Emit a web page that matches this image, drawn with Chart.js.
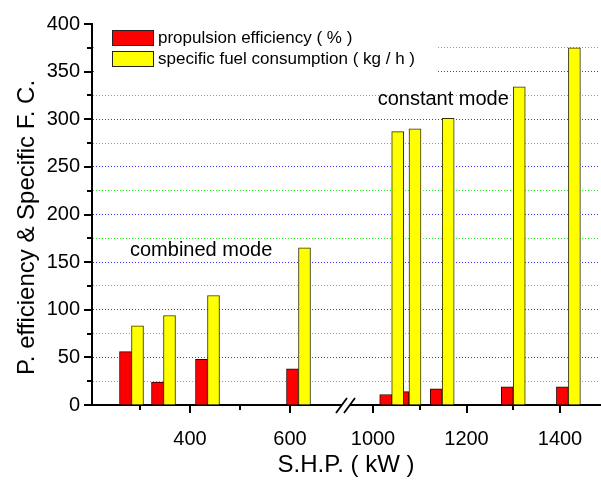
<!DOCTYPE html>
<html>
<head>
<meta charset="utf-8">
<script src="https://cdn.jsdelivr.net/npm/chart.js@4.4.1/dist/chart.umd.min.js"></script>
<style>
  html, body { margin: 0; padding: 0; background: #fff; }
  #wrap { width: 601px; height: 483px; }
</style>
</head>
<body>
<div id="wrap"><canvas id="shpChart" width="601" height="483"></canvas></div>
<script>
// values
const shpValues = [283, 347, 435, 617, 1040, 1077, 1148, 1300, 1418];
const propulsionEfficiency = [56, 24, 48, 38, 11, 14, 17, 19, 19];
const fuelConsumption = [83, 94, 115, 165, 287, 290, 301, 334, 375];

const xTickValues = [300, 400, 500, 600, 1000, 1100, 1200, 1300, 1400];
const xTickLabels = ['', '400', '', '600', '1000', '', '1200', '', '1400'];
const yTickValues = [0, 25, 50, 75, 100, 125, 150, 175, 200, 225, 250, 275, 300, 325, 350, 375, 400];

const seriesLabels = ['propulsion efficiency ( % )', 'specific fuel consumption ( kg / h )'];
const yTitle = 'P. efficiency & Specific F. C.';
const notes = [
    { text: 'combined mode', x: 280, y: 162 },
    { text: 'constant mode', x: 1010, y: 321 }
];

const FONT = "'Liberation Sans', Arial, sans-serif";

// broken x axis: the part above the break is squeezed a little
function toAxis(v) {
    return v < 800 ? v : 766 + (v - 1000) * 0.935;
}
const breakPos = 712;

function makePoints(values) {
    return shpValues.map((v, i) => ({ x: toAxis(v), y: values[i] }));
}

// draw datasets in index order so the yellow bars sit on top of the red ones
const drawOrderPlugin = {
    id: 'drawOrder',
    beforeDatasetsDraw(chart) {
        for (let i = 0; i < chart.data.datasets.length; i++) {
            const meta = chart.getDatasetMeta(i);
            if (meta.visible) meta.controller.draw();
        }
        return false;
    }
};

const decorPlugin = {
    id: 'decor',
    afterDraw(chart) {
        const ctx = chart.ctx;
        const area = chart.chartArea;
        const xs = chart.scales.x;
        const ys = chart.scales.y;
        ctx.save();

        // tick marks
        ctx.strokeStyle = '#000';
        ctx.lineWidth = 2;
        ys.ticks.forEach(t => {
            const py = Math.round(ys.getPixelForValue(t.value));
            const len = t.value % 50 === 0 ? 8 : 5;
            ctx.beginPath();
            ctx.moveTo(area.left - len, py);
            ctx.lineTo(area.left, py);
            ctx.stroke();
        });
        xs.ticks.forEach((t, i) => {
            const px = Math.round(xs.getPixelForValue(t.value));
            const len = xTickLabels[i] ? 8 : 5;
            ctx.beginPath();
            ctx.moveTo(px, area.bottom);
            ctx.lineTo(px, area.bottom + len);
            ctx.stroke();
        });

        // axis break
        const bx = xs.getPixelForValue(breakPos);
        ctx.fillStyle = '#fff';
        ctx.fillRect(bx - 4, area.bottom - 2, 8, 4);
        ctx.lineWidth = 1.8;
        [-4, 4].forEach(dx => {
            ctx.beginPath();
            ctx.moveTo(bx + dx - 6, area.bottom + 8);
            ctx.lineTo(bx + dx + 5, area.bottom - 7);
            ctx.stroke();
        });

        // legend
        ctx.fillStyle = '#fff';
        ctx.fillRect(area.left + 2, area.top + 2, 344, 58);
        ctx.font = '17px ' + FONT;
        ctx.textBaseline = 'middle';
        ctx.textAlign = 'left';
        chart.data.datasets.forEach((ds, i) => {
            const top = area.top + 6 + i * 21;
            ctx.fillStyle = ds.backgroundColor;
            ctx.fillRect(area.left + 20, top, 41, 15);
            ctx.lineWidth = 1;
            ctx.strokeStyle = '#222';
            ctx.strokeRect(area.left + 20.5, top + 0.5, 41, 15);
            ctx.fillStyle = '#000';
            ctx.fillText(ds.label, area.left + 66, top + 8);
        });

        // notes
        ctx.font = '20px ' + FONT;
        notes.forEach(n => {
            ctx.fillText(n.text, xs.getPixelForValue(toAxis(n.x)), ys.getPixelForValue(n.y));
        });

        // y axis title, sits a bit below the middle of the axis
        ctx.translate(27, (area.top + area.bottom) / 2 + 13);
        ctx.rotate(-Math.PI / 2);
        ctx.textAlign = 'center';
        ctx.font = '24px ' + FONT;
        ctx.fillText(yTitle, 0, 0);
        ctx.restore();
    }
};

function gridColor(value) {
    if (value === 0 || value === 400) return 'rgba(0,0,0,0)';
    return value % 50 === 0 ? '#3333ff' : '#22ee22';
}

const ctx = document.getElementById('shpChart').getContext('2d');
new Chart(ctx, {
    type: 'bar',
    data: {
        datasets: [
            {
                label: seriesLabels[0],
                data: makePoints(propulsionEfficiency),
                backgroundColor: '#ff0000',
                borderColor: '#330000',
                borderWidth: 1,
                barThickness: 12
            },
            {
                label: seriesLabels[1],
                data: makePoints(fuelConsumption),
                backgroundColor: '#ffff00',
                borderColor: '#333300',
                borderWidth: 1,
                barThickness: 12
            }
        ]
    },
    options: {
        responsive: false,
        animation: false,
        layout: { padding: { top: 19, right: 1, left: 0, bottom: 0 } },
        plugins: {
            legend: { display: false },
            tooltip: { enabled: false }
        },
        scales: {
            x: {
                type: 'linear',
                min: 204,
                max: 1220,
                offset: false,
                afterBuildTicks: s => { s.ticks = xTickValues.map(v => ({ value: toAxis(v) })); },
                afterFit: s => { s.height = 78; },
                ticks: {
                    autoSkip: false,
                    maxRotation: 0,
                    padding: 14,
                    color: '#000',
                    font: { family: FONT, size: 20 },
                    callback: (value, index) => xTickLabels[index]
                },
                grid: { display: false },
                border: { display: true, color: '#000', width: 2 },
                title: {
                    display: true,
                    text: 'S.H.P. ( kW )',
                    color: '#000',
                    font: { family: FONT, size: 24 },
                    padding: { top: 0, bottom: 3 }
                }
            },
            y: {
                min: 0,
                max: 400,
                afterBuildTicks: s => { s.ticks = yTickValues.map(v => ({ value: v })); },
                afterFit: s => { s.width = 92; },
                ticks: {
                    autoSkip: false,
                    padding: 12,
                    color: '#000',
                    font: { family: FONT, size: 20 },
                    callback: value => (value % 50 === 0 ? String(value) : '')
                },
                grid: {
                    drawTicks: false,
                    lineWidth: 1,
                    color: c => gridColor(c.tick.value)
                },
                border: { display: true, color: '#000', width: 2, dash: [1, 2] },
                title: { display: false }
            }
        }
    },
    plugins: [drawOrderPlugin, decorPlugin]
});
</script>
</body>
</html>
